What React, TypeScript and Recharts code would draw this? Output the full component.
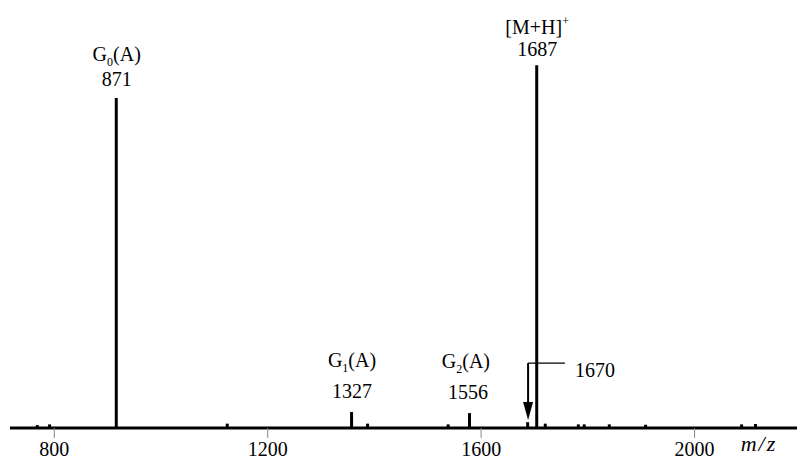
import React from 'react';
import { BarChart, Bar, XAxis, YAxis, ReferenceDot, ReferenceLine } from 'recharts';

// peak positions on the drawn m/z axis, relative intensities (%)
const peakMz = [769, 792, 917, 1125, 1358, 1388, 1539, 1579, 1688, 1705, 1721, 1783, 1794, 1841, 1909, 2089, 2115];
const peakIntensity = [0.8, 1.0, 91, 1.2, 4.4, 1.2, 1.0, 4.1, 1.6, 100, 1.2, 1.0, 1.0, 1.0, 0.9, 1.0, 1.1];

// annotated peaks
const labelMz = [917, 1358, 1579, 1705];
const labelIntensity = [91, 4.4, 4.1, 100];
const labelName = ['G', 'G', 'G', '[M+H]'];
const labelSub = ['0', '1', '2', ''];
const labelSup = ['', '', '', '+'];
const labelSuffix = ['(A)', '(A)', '(A)', ''];
const labelValue = ['871', '1327', '1556', '1687'];

const xTicks = [800, 1200, 1600, 2000];

// arrow annotation for the small peak
const arrowMz = 1688;
const arrowTop = 17.9;
const arrowTip = 2.2;
const arrowLabelMz = 1757;
const arrowLabel = '1670';

const data = peakMz.map((mz, i) => ({ mz, intensity: peakIntensity[i] }));

const FONT = 'Liberation Serif, Times New Roman, serif';

// pixel gaps above each peak top: [number line, name line]
const labelGaps = [[19, 44], [21, 52], [21, 52], [16, 38]];

const PeakLabel = ({ cx, cy, i }: any) => {
  const [numGap, nameGap] = labelGaps[i];
  const dx = i === 2 ? -4 : 0;
  return (
    <g fontFamily={FONT} fontSize={20} fill="#000">
      <text x={cx + dx} y={cy - nameGap} dy="0.35em" textAnchor="middle">
        <tspan>{labelName[i]}</tspan>
        {labelSub[i] && <tspan fontSize={12} dy={5}>{labelSub[i]}</tspan>}
        {labelSup[i] && <tspan fontSize={12} dy={-9}>{labelSup[i]}</tspan>}
        {labelSuffix[i] && <tspan dy={labelSub[i] ? -5 : 0}>{labelSuffix[i]}</tspan>}
      </text>
      <text x={cx + dx / 2} y={cy - numGap} dy="0.35em" textAnchor="middle">{labelValue[i]}</text>
    </g>
  );
};

const App: React.FC = () => {
  return (
    <div style={{ width: 797, height: 459, background: '#fff' }}>
      <style>{`body{margin:0}`}</style>
      <BarChart width={797} height={459} data={data} margin={{ top: 0, right: 0, left: 10, bottom: 0 }}>
        <XAxis
          type="number"
          dataKey="mz"
          domain={[717, 2192]}
          allowDataOverflow
          ticks={xTicks}
          height={31}
          axisLine={{ stroke: '#000', strokeWidth: 3 }}
          tickLine={{ stroke: '#888', strokeWidth: 1 }}
          tickSize={10}
          tickMargin={4}
          tick={{ fill: '#000', fontSize: 20, fontFamily: FONT }}
          label={(props: any) => {
            const vb = props.viewBox;
            return (
              <text x={vb.x + vb.width - 38} y={vb.y + 15} dy="0.35em" textAnchor="middle"
                fontFamily={FONT} fontStyle="italic" fontSize={22} letterSpacing={2} fill="#000">m/z</text>
            );
          }}
        />
        <YAxis hide domain={[0, 118]} allowDataOverflow />
        <Bar dataKey="intensity" fill="#000" barSize={3} isAnimationActive={false} />
        <ReferenceLine segment={[{ x: arrowMz, y: arrowTop }, { x: arrowMz, y: arrowTip + 3 }]} stroke="#000" strokeWidth={2} />
        <ReferenceLine segment={[{ x: arrowMz, y: arrowTop }, { x: arrowLabelMz, y: arrowTop }]} stroke="#000" strokeWidth={1.2} />
        <ReferenceDot
          x={arrowMz}
          y={arrowTip}
          shape={(p: any) => (
            <polygon points={`${p.cx - 5},${p.cy - 18} ${p.cx + 5},${p.cy - 18} ${p.cx},${p.cy}`} fill="#000" />
          )}
        />
        <ReferenceDot
          x={arrowLabelMz}
          y={arrowTop}
          shape={(p: any) => (
            <text x={p.cx + 10} y={p.cy + 7} dy="0.35em" fontFamily={FONT} fontSize={20} fill="#000">{arrowLabel}</text>
          )}
        />
        {labelMz.map((mz, i) => (
          <ReferenceDot key={mz} x={mz} y={labelIntensity[i]} shape={(p: any) => <PeakLabel {...p} i={i} />} />
        ))}
      </BarChart>
    </div>
  );
};

export default App;
